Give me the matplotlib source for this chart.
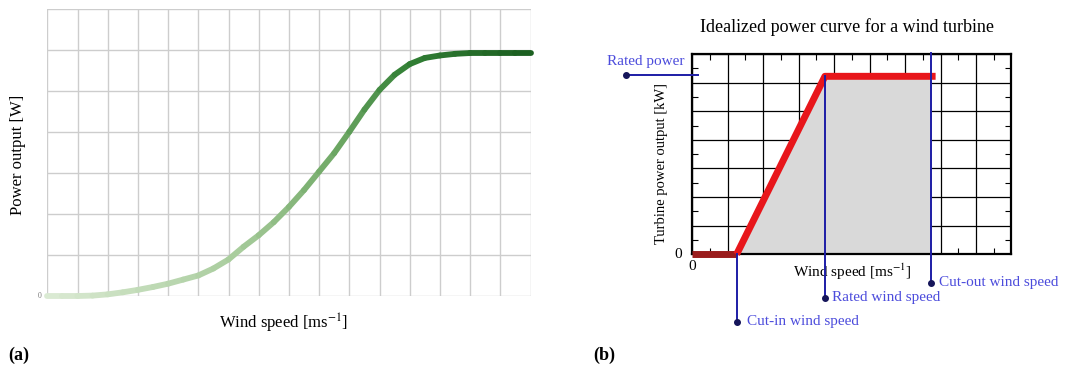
import numpy as np
import matplotlib.pyplot as plt
from matplotlib.collections import LineCollection
from matplotlib.colors import LinearSegmentedColormap

plt.rcParams['font.family'] = ['Liberation Serif', 'DejaVu Serif']
plt.rcParams['mathtext.fontset'] = 'stix'

# (a) realistic power curve, read in grid units
wind_a = [0, 0.5, 1, 1.5, 2, 2.5, 3, 3.5, 4, 4.5, 5, 5.5, 6, 6.5, 7, 7.5, 8,
          8.5, 9, 9.5, 10, 10.5, 11, 11.5, 12, 12.5, 13, 13.5, 14, 14.5, 15, 15.5, 16]
power_a = [0, 0, 0, 0.01, 0.04, 0.09, 0.15, 0.22, 0.3, 0.4, 0.5, 0.67, 0.89, 1.2, 1.48, 1.8, 2.17,
           2.58, 3.03, 3.48, 4.0, 4.54, 5.02, 5.39, 5.65, 5.8, 5.86, 5.9, 5.92, 5.92, 5.92, 5.92, 5.92]

# (b) idealized curve
cut_in = 1.25
rated_speed = 3.74
cut_out = 6.72
rated_power = 6.22
line_end = 6.86

W, H = 1065, 372
fig = plt.figure(figsize=(W / 100, H / 100), dpi=100)


def px_axes(x0, y0, x1, y1):
    return fig.add_axes([x0 / W, 1 - y1 / H, (x1 - x0) / W, (y1 - y0) / H])


# ---- panel (a)
ax = px_axes(47.3, 8.7, 530.5, 296)
ax.set_xlim(0, 16)
ax.set_ylim(0, 7)
ax.set_xticks(range(17))
ax.set_yticks(range(8))
ax.grid(True, color='#cdcdcd', lw=1)
ax.tick_params(length=0, labelbottom=False, labelleft=False)
for s in ax.spines.values():
    s.set_visible(False)

x = np.array(wind_a)
y = np.array(power_a)
segs = np.stack([np.column_stack([x[:-1], y[:-1]]), np.column_stack([x[1:], y[1:]])], axis=1)
cmap = LinearSegmentedColormap.from_list(
    'g', [(0, '#dcebd5'), (0.4, '#a8cc9c'), (0.6, '#70a966'), (0.75, '#327f35'), (1, '#1b5e20')])
lc = LineCollection(segs, colors=cmap((x[:-1] + x[1:]) / 2 / 16), linewidths=4.2,
                    capstyle='round', joinstyle='round', clip_on=False)
ax.add_collection(lc)
ax.text(-0.2, 0, '0', fontsize=5.5, color='#777777', ha='right', va='center')
fig.text(18 / W, 1 - 155 / H, 'Power output [W]', rotation=90, fontsize=12,
         ha='center', va='center')
fig.text(284 / W, 1 - 323 / H, 'Wind speed [ms$^{-1}$]', fontsize=12,
         ha='center', va='center')
fig.text(8 / W, 1 - 355 / H, '(a)', fontsize=13, fontweight='bold', va='center')

# ---- panel (b)
bx = px_axes(692.3, 54, 1011.5, 254.3)
bx.set_xlim(0, 9)
bx.set_ylim(0, 7)
bx.set_xticks(range(10))
bx.set_yticks(range(8))
bx.set_xticks(np.arange(0.5, 9, 1), minor=True)
bx.set_yticks(np.arange(0.5, 7, 1), minor=True)
bx.grid(True, color='black', lw=0.9)
bx.tick_params(which='major', length=0, labelbottom=False, labelleft=False)
bx.tick_params(which='minor', length=4, direction='in', width=0.8, top=True, right=True,
               labelbottom=False, labelleft=False)
for s in bx.spines.values():
    s.set_linewidth(1.6)

bx.fill_between([cut_in, rated_speed, cut_out], [0, rated_power, rated_power],
                color='#d9d9d9', zorder=2)
bx.plot([0, cut_in], [0, 0], color='#9a1c1c', lw=5, zorder=4, clip_on=False,
        solid_capstyle='butt')
bx.plot([cut_in, rated_speed, line_end], [0, rated_power, rated_power],
        color='#e8161b', lw=5, zorder=4, clip_on=False, solid_capstyle='butt')

navy = '#1d1da6'
dot = '#15155a'
txt = '#4c4cdc'
# rated power
bx.plot([-1.88, 0.17], [6.25, 6.25], color=navy, lw=1.4, clip_on=False, zorder=5)
bx.plot([-1.88], [6.25], 'o', color=dot, ms=4, clip_on=False, zorder=6)
fig.text(607 / W, 1 - 62 / H, 'Rated power', color=txt, fontsize=11, va='center')
# cut-in
bx.plot([cut_in, cut_in], [0, -2.35], color=navy, lw=1.4, clip_on=False, zorder=5)
bx.plot([cut_in], [-2.35], 'o', color=dot, ms=4, clip_on=False, zorder=6)
bx.text(cut_in + 0.28, -2.35, 'Cut-in wind speed', color=txt, fontsize=11, va='center')
# rated wind speed
bx.plot([rated_speed, rated_speed], [rated_power, -1.51], color=navy, lw=1.4, clip_on=False, zorder=5)
bx.plot([rated_speed], [-1.51], 'o', color=dot, ms=4, clip_on=False, zorder=6)
bx.text(rated_speed + 0.2, -1.51, 'Rated wind speed', color=txt, fontsize=11, va='center')
# cut-out
bx.plot([cut_out, cut_out], [7.05, -0.99], color=navy, lw=1.4, clip_on=False, zorder=5)
bx.plot([cut_out], [-0.99], 'o', color=dot, ms=4, clip_on=False, zorder=6)
bx.text(cut_out + 0.24, -0.99, 'Cut-out wind speed', color=txt, fontsize=11, va='center')

bx.text(-0.3, 0, '0', fontsize=11, ha='right', va='center')
bx.text(0, -0.43, '0', fontsize=11, ha='center', va='center')
bx.text(4.5, -0.6, 'Wind speed [ms$^{-1}$]', fontsize=11, ha='center', va='center', zorder=1)
fig.text(661 / W, 1 - 163 / H, 'Turbine power output [kW]', rotation=90, fontsize=10.5,
         ha='center', va='center')
fig.text(847 / W, 1 - 27 / H, 'Idealized power curve for a wind turbine', fontsize=13,
         ha='center', va='center')
fig.text(593 / W, 1 - 355 / H, '(b)', fontsize=13, fontweight='bold', va='center')

fig.savefig('out.png', dpi=100)
